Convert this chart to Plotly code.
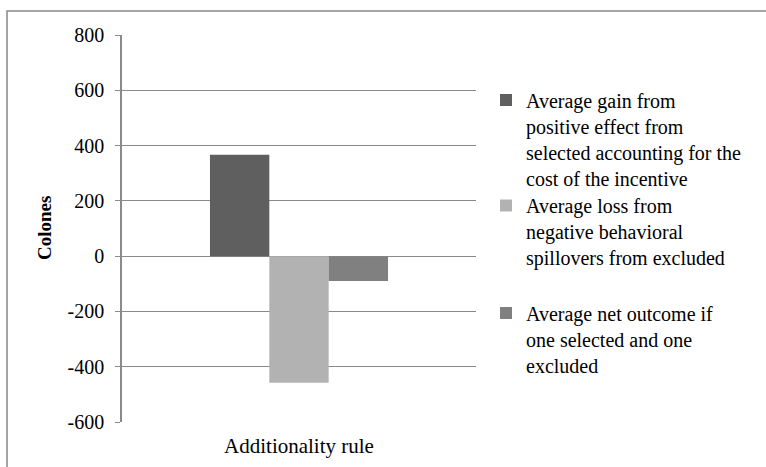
import plotly.graph_objects as go

category = ["Additionality rule"]
series_names = [
    "Average gain from<br>positive effect from<br>selected accounting for the<br>cost of the incentive",
    "Average loss from<br>negative behavioral<br>spillovers from excluded",
    "Average net outcome if<br>one selected and one<br>excluded",
]
gain_values = [367]
loss_values = [-458]
net_values = [-90]
series_colors = ["#5f5f5f", "#b2b2b2", "#808080"]
y_ticks = [-600, -400, -200, 0, 200, 400, 600, 800]
y_tick_labels = ["-600", "-400", "-200", "0", "200", "400", "600", "800"]

FONT = "Liberation Serif, Times New Roman, serif"
W, H = 766, 467
L, R, T, B = 122, 476, 35, 422

def px_x(p):
    return (p - L) / (R - L)

def px_y(p):
    return (B - p) / (B - T)

fig = go.Figure()
for name, vals, col, lg in zip(series_names, [gain_values, loss_values, net_values],
                               series_colors, ["legend", "legend2", "legend3"]):
    fig.add_trace(go.Bar(x=category, y=vals, name=name, marker_color=col,
                         marker_line_width=0, legend=lg, showlegend=True))

leg_common = dict(xanchor="left", yanchor="top", valign="top",
                  font=dict(family=FONT, size=20, color="#000000"),
                  bgcolor="rgba(0,0,0,0)", borderwidth=0)

fig.update_layout(
    width=W, height=H,
    margin=dict(l=L, r=W - R, t=T, b=H - B, autoexpand=False),
    paper_bgcolor="white", plot_bgcolor="white",
    barmode="group", bargap=0.497, bargroupgap=0,
    showlegend=True,
    font=dict(family=FONT, size=20, color="#000000"),
    legend=dict(x=px_x(486), y=px_y(80.5), **leg_common),
    legend2=dict(x=px_x(486), y=px_y(186), **leg_common),
    legend3=dict(x=px_x(486), y=px_y(293.5), **leg_common),
    xaxis=dict(showline=False, showgrid=False, ticks="", ticklabelstandoff=9,
               tickfont=dict(family=FONT, size=21, color="#000000")),
    yaxis=dict(range=[-600, 800], tickvals=y_ticks, ticktext=y_tick_labels,
               showgrid=True,
               gridcolor="#8a8a8a", gridwidth=1.3, zeroline=True,
               zerolinecolor="#8a8a8a", zerolinewidth=1.3,
               showline=True, linecolor="#8a8a8a", linewidth=1.5,
               ticks="outside", ticklen=5, tickcolor="#8a8a8a", tickwidth=1.3,
               ticklabelstandoff=7,
               tickfont=dict(family=FONT, size=20, color="#000000")),
    shapes=[dict(type="rect", xref="paper", yref="paper",
                 x0=px_x(7), x1=px_x(900), y0=px_y(600), y1=px_y(11),
                 line=dict(color="#868686", width=1.5), fillcolor="rgba(0,0,0,0)",
                 layer="below")],
    annotations=[dict(text="<b>Colones</b>", textangle=-90, xref="paper", yref="paper",
                      x=px_x(45), y=px_y(228), xanchor="center", yanchor="middle",
                      showarrow=False, font=dict(family=FONT, size=19, color="#000000"))],
)

fig.write_html("out.html", config={"displayModeBar": False},
               post_script="document.body.style.margin='0';")
